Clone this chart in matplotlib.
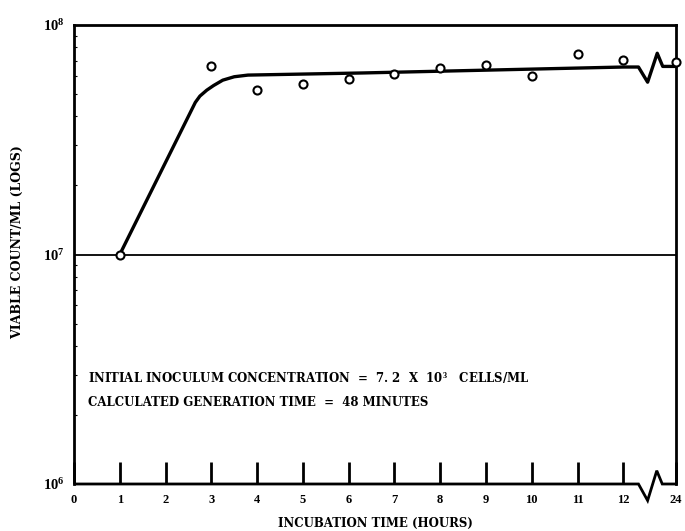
import matplotlib
matplotlib.use("Agg")
import matplotlib.pyplot as plt
import matplotlib.transforms as mtransforms
import numpy as np

# ---- data ----
obs_hours = [1, 3, 4, 5, 6, 7, 8, 9, 10, 11, 12, 24]
obs_counts = [1.0e7, 6.62e7, 5.22e7, 5.54e7, 5.83e7, 6.13e7, 6.52e7, 6.72e7,
              5.99e7, 7.46e7, 7.07e7, 6.90e7]

curve_hours = [1.0, 2.65, 2.75, 2.9, 3.05, 3.25, 3.5, 3.8, 6.3, 12.0]
curve_counts = [1.0e7, 4.6e7, 4.9e7, 5.2e7, 5.45e7, 5.75e7, 5.95e7, 6.05e7, 6.18e7, 6.56e7]
curve_end_count = 6.6e7   # value at 24 h

xtick_hours = [0, 1, 2, 3, 4, 5, 6, 7, 8, 9, 10, 11, 12, 24]
xtick_labels = ["0", "1", "2", "3", "4", "5", "6", "7", "8", "9", "10", "11", "12", "24"]
ytick_vals = [1e6, 1e7, 1e8]
ytick_labels = [r"$\mathbf{10^{6}}$", r"$\mathbf{10^{7}}$", r"$\mathbf{10^{8}}$"]

xlabel = "INCUBATION TIME (HOURS)"
ylabel = "VIABLE COUNT/ML (LOGS)"
note1 = r"INITIAL INOCULUM CONCENTRATION  =  7. 2  X  10$^{\mathbf{3}}$   CELLS/ML"
note2 = "CALCULATED GENERATION TIME  =  48 MINUTES"

# ---- style ----
plt.rcParams["font.family"] = ["Liberation Serif", "DejaVu Serif"]
plt.rcParams["font.weight"] = "bold"
plt.rcParams["mathtext.fontset"] = "custom"
plt.rcParams["mathtext.rm"] = "Liberation Serif:bold"
plt.rcParams["mathtext.bf"] = "Liberation Serif:bold"
plt.rcParams["mathtext.it"] = "Liberation Serif:bold"

WIDE = ["DejaVu Serif"]
BREAK_POS = 13.15   # axis position used for 24 h (after the break)


def pos(h):
    return h if h <= 12 else BREAK_POS


fig = plt.figure(figsize=(6.85, 5.31), dpi=100)
ax = fig.add_axes([74 / 685, 47 / 531, 602 / 685, 459 / 531])
ax.set_yscale("log")
ax.set_ylim(1e6, 1e8)
ax.set_xlim(0.057, BREAK_POS)

# reference line at 10^7
ax.axhline(1e7, color="black", lw=1.3, zorder=1)

# fitted curve with break
cx = [pos(h) for h in curve_hours]
cy = list(curve_counts)
b = curve_counts[-1]
cx += [12.33, 12.53, 12.74, 12.86, BREAK_POS]
cy += [b, b * 10 ** -0.066, b * 10 ** 0.060, curve_end_count, curve_end_count]
ax.plot(cx, cy, color="black", lw=2.4, solid_joinstyle="round", zorder=2, clip_on=False)

# observations
ax.plot([pos(h) for h in obs_hours], obs_counts, linestyle="none", marker="o",
        markersize=5.8, markerfacecolor="white", markeredgecolor="black",
        markeredgewidth=1.5, zorder=3, clip_on=False)

# spines
for s in ["left", "right", "top"]:
    ax.spines[s].set_linewidth(2.0)
ax.spines["bottom"].set_visible(False)
trans = mtransforms.blended_transform_factory(ax.transData, ax.transAxes)
ax.plot([0.057, 12.33, 12.53, 12.73, 12.85, BREAK_POS],
        [0, 0, -0.036, 0.029, 0, 0], transform=trans, color="black",
        lw=2.0, clip_on=False, solid_joinstyle="miter", zorder=4)

# ticks
ax.set_xticks([pos(h) for h in xtick_hours])
ax.set_xticklabels(xtick_labels)
ax.tick_params(axis="x", direction="in", length=16, width=2.0, pad=7,
               labelsize=9, top=False)
ax.set_yticks(ytick_vals)
ax.set_yticklabels(ytick_labels)
ax.tick_params(axis="y", which="major", length=0, pad=7, labelsize=10.5)
ax.tick_params(axis="y", which="minor", direction="in", length=2.5, width=0.8,
               right=False, left=True, labelleft=False)
for lab in ax.get_xticklabels():
    lab.set_fontweight("bold")

# labels
ax.set_xlabel(xlabel, fontsize=8.5, fontweight="bold", labelpad=8, family=WIDE)
fig.text(18 / 685, 1 - 242 / 531, ylabel, rotation=90, ha="center", va="center",
         fontsize=9, fontweight="bold", family=WIDE)

fig.text(88 / 685, 1 - 378 / 531, note1, ha="left", va="center", fontsize=8.5,
         fontweight="bold", family=WIDE)
fig.text(88 / 685, 1 - 403 / 531, note2, ha="left", va="center", fontsize=8.5,
         fontweight="bold", family=WIDE)

fig.savefig("out.png", dpi=100, facecolor="white")
